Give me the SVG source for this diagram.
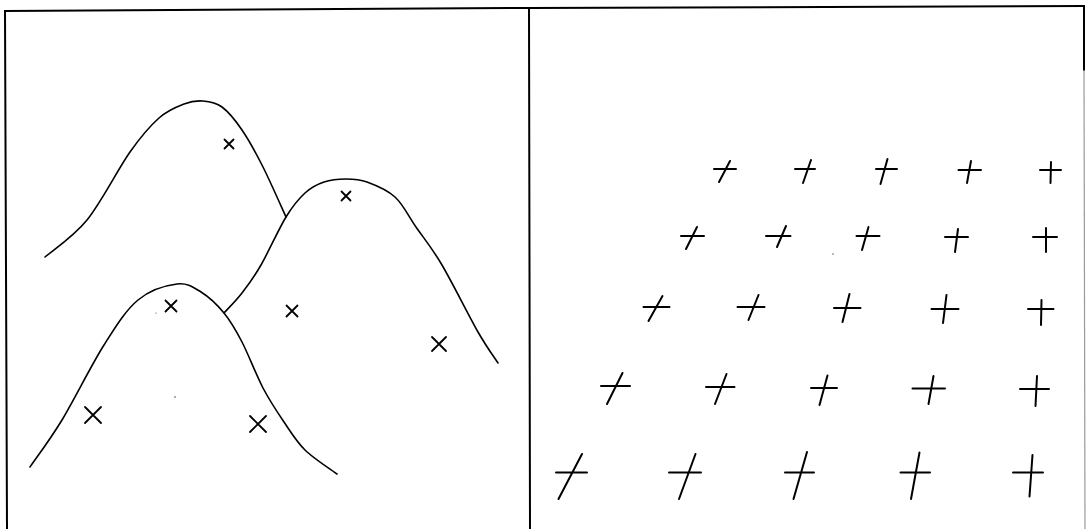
<svg xmlns="http://www.w3.org/2000/svg" width="1086" height="529" viewBox="0 0 1086 529">
<style>
.frame{stroke:#000;stroke-width:2;fill:none;stroke-linecap:square}
.faint{stroke:#9a9a9a;stroke-width:1.2;fill:none}
.curve{stroke:#000;stroke-width:1.6;fill:none;stroke-linecap:round;stroke-linejoin:round}
.mark{stroke:#000;stroke-width:1.8;fill:none;stroke-linecap:round}
.cross{stroke:#000;stroke-width:2;fill:none;stroke-linecap:round}
.speck{fill:#444}
</style>
<rect width="1086" height="529" fill="#fff"/>
<g id="frame">
  <path class="frame" d="M5,11 L529,8 L1084,6"/>
  <path class="frame" d="M5,11 L7,529"/>
  <path class="frame" d="M529,8 L530,529"/>
  <path class="frame" d="M1084,6 L1084,70"/>
  <path class="faint" d="M1084,70 L1085,529"/>
</g>
<g id="left-panel">
  <g id="curve-top">
    <path class="curve" d="M45,257 C52,250.8 72.8,237.5 87,220 C101.2,202.5 118,169 130,152 C142,135 150,126 159,118 C168,110 176.7,106.8 184,104 C191.3,101.2 196.7,100.5 203,101 C209.3,101.5 215.5,102.2 222,107 C228.5,111.8 235.2,120 242,130 C248.8,140 255.7,152.5 263,167 C270.3,181.5 282.2,208.7 286,217"/>
  </g>
  <g id="curve-middle">
    <path class="curve" d="M224,313 C227,309.7 235.8,301 242,293 C248.2,285 253.7,277.7 261,265 C268.3,252.3 278.7,229 286,217 C293.3,205 298.7,198.8 305,193 C311.3,187.2 317.2,184.3 324,182 C330.8,179.7 338.8,179 346,179 C353.2,179 358.8,179 367,182 C375.2,185 386.8,189.5 395,197 C403.2,204.5 408.2,215.7 416,227 C423.8,238.3 431.7,247.5 442,265 C452.3,282.5 468.7,315.7 478,332 C487.3,348.3 494.7,357.8 498,363"/>
  </g>
  <g id="curve-bottom">
    <path class="curve" d="M30,467 C35.3,459.2 49.7,440.3 62,420 C74.3,399.7 91.3,365 104,345 C116.7,325 125.8,310.2 138,300 C150.2,289.8 166.5,285.3 177,284 C187.5,282.7 193.2,287.2 201,292 C208.8,296.8 217.2,304.7 224,313 C230.8,321.3 235.5,329.5 242,342 C248.5,354.5 256,374.7 263,388 C270,401.3 277,411.7 284,422 C291,432.3 296.2,441.3 305,450 C313.8,458.7 331.7,470 337,474"/>
  </g>
  <g id="x-marks">
    <path class="mark" d="M224.5,139.5 L233.5,148.5 M233.5,139.5 L224.5,148.5"/>
    <path class="mark" d="M341.5,191.5 L350.5,200.5 M350.5,191.5 L341.5,200.5"/>
    <path class="mark" d="M165.5,300.5 L176.5,311.5 M176.5,300.5 L165.5,311.5"/>
    <path class="mark" d="M286.5,305.5 L297.5,316.5 M297.5,305.5 L286.5,316.5"/>
    <path class="mark" d="M432,337 L446,351 M446,337 L432,351"/>
    <path class="mark" d="M85,407 L101,423 M101,407 L85,423"/>
    <path class="mark" d="M250,416 L266,432 M266,416 L250,432"/>
  </g>
  <circle class="speck" cx="175" cy="397" r="0.8"/>
  <circle class="speck" cx="156" cy="313" r="0.6"/>
</g>
<g id="right-panel">
  <g id="row1">
    <path class="cross" d="M714,169 L736,169 M730,161 L719,182"/>
    <path class="cross" d="M795,169 L815,169 M811,160 L803,183"/>
    <path class="cross" d="M876,169 L897,169 M887.5,159 L880.5,184"/>
    <path class="cross" d="M958.5,170 L981,170 M971,161 L967,183"/>
    <path class="cross" d="M1040,170 L1061,170 M1051,162 L1050.5,183"/>
  </g>
  <g id="row2">
    <path class="cross" d="M681,236 L704,236 M697,227 L686,249"/>
    <path class="cross" d="M766,236 L790.5,236 M786,226 L777,247"/>
    <path class="cross" d="M856.5,236 L879.5,236 M868.5,227 L862,250"/>
    <path class="cross" d="M945,237 L968,237 M958,229 L955,252"/>
    <path class="cross" d="M1033,237 L1057,237 M1046,228 L1046,252"/>
  </g>
  <g id="row3">
    <path class="cross" d="M643.5,307 L669.5,307 M662.5,296 L648.5,321"/>
    <path class="cross" d="M737.5,307 L764.5,307 M758.5,295 L748.5,320"/>
    <path class="cross" d="M834,308 L860.5,308 M849.5,294 L842.5,322"/>
    <path class="cross" d="M931.5,309 L958.5,309 M946.5,295 L943,323"/>
    <path class="cross" d="M1028,309 L1053.5,309 M1041.5,300 L1041,325"/>
  </g>
  <g id="row4">
    <path class="cross" d="M601,386 L630,386 M622.5,373 L607,404"/>
    <path class="cross" d="M706,387 L734.5,387 M726.5,374 L715,404"/>
    <path class="cross" d="M811,388 L837,388 M827.5,375.5 L819.5,405"/>
    <path class="cross" d="M912.5,388.5 L945,388.5 M933.5,376 L928.5,404"/>
    <path class="cross" d="M1020,389 L1049,389 M1037,376 L1035.5,406"/>
  </g>
  <g id="row5">
    <path class="cross" d="M556,472.5 L587,472.5 M582,454 L558.5,499"/>
    <path class="cross" d="M669,472.5 L701,472.5 M695.5,454 L679,499"/>
    <path class="cross" d="M785,472.5 L814,472.5 M807,452 L793.5,499"/>
    <path class="cross" d="M900.5,472.5 L930,472.5 M919.5,452.5 L911,499"/>
    <path class="cross" d="M1013,472.5 L1043,472.5 M1032.5,455 L1029.5,496.5"/>
  </g>
  <circle class="speck" cx="833" cy="254" r="0.7"/>
</g>
</svg>
